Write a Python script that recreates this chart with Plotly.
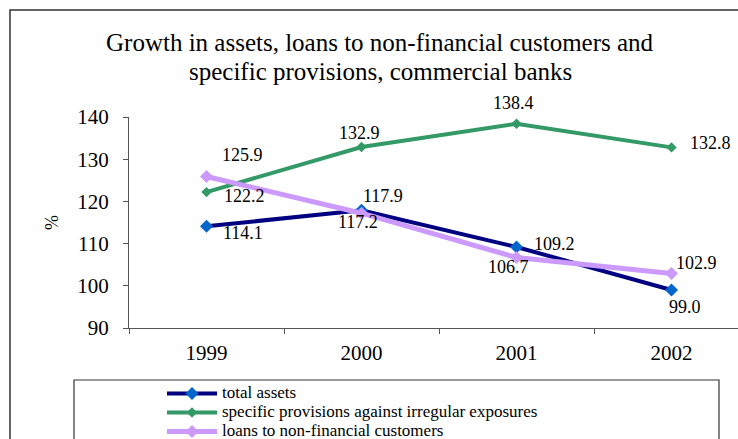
import plotly.graph_objects as go

# Data: growth indices (%), commercial banks
years = ["1999", "2000", "2001", "2002"]
total_assets = [114.1, 117.9, 109.2, 99.0]
specific_provisions = [122.2, 132.9, 138.4, 132.8]
loans_nonfin = [125.9, 117.2, 106.7, 102.9]

series_names = [
    "total assets",
    "specific provisions against irregular exposures",
    "loans to non-financial customers",
]

# Figure geometry (pixels)
W, H = 738, 439
PLOT_L, PLOT_T, PLOT_B = 129, 117, 328
PLOT_R = W
PLOT_W = PLOT_R - PLOT_L
PLOT_H = PLOT_B - PLOT_T

def px_x(px):
    return (px - PLOT_L) / PLOT_W

def px_y(py):
    return (PLOT_B - py) / PLOT_H

SERIF = "Liberation Serif, serif"

styles = [
    dict(line=dict(color="#000080", width=4),
         marker=dict(symbol="diamond", size=10, color="#0066CC")),
    dict(line=dict(color="#339966", width=4),
         marker=dict(symbol="diamond", size=8, color="#339966")),
    dict(line=dict(color="#CC99FF", width=5),
         marker=dict(symbol="diamond", size=10, color="#CC99FF")),
]

# label offsets (dx, dy) in pixels for each series / year
label_offsets = [
    [(36, -7), (21, 14), (38, 3), (13, -17)],
    [(38, -4), (-2, 14), (-3, 21), (39, 4)],
    [(36, 22), (-4, -9), (-8, -9), (25, 11)],
]

fig = go.Figure()
all_series = [total_assets, specific_provisions, loans_nonfin]
for name, vals, st in zip(series_names, all_series, styles):
    fig.add_trace(go.Scatter(
        x=years, y=vals,
        name=f'<span style="font-size:17px">{name}</span>',
        mode="lines+markers", line=st["line"], marker=st["marker"],
        cliponaxis=False,
    ))

annotations = []
for vals, offs in zip(all_series, label_offsets):
    for i, (v, (dx, dy)) in enumerate(zip(vals, offs)):
        annotations.append(dict(
            x=i, y=v, xref="x", yref="y", text=f"{v:.1f}", showarrow=False,
            xanchor="center", yanchor="middle",
            xshift=dx, yshift=dy, font=dict(family=SERIF, size=18, color="#000"),
        ))

# Title (two lines)
title_lines = [
    "Growth in assets, loans to non-financial customers and",
    "specific provisions, commercial banks",
]
for text, py in zip(title_lines, [42, 71]):
    annotations.append(dict(
        x=px_x(380), y=px_y(py), xref="paper", yref="paper", showarrow=False,
        xanchor="center", yanchor="middle", text=text,
        font=dict(family=SERIF, size=25, color="#000"),
    ))
# Y axis title
annotations.append(dict(
    x=px_x(52), y=px_y(222), xref="paper", yref="paper", showarrow=False,
    xanchor="center", yanchor="middle",
    text="%", textangle=-90, font=dict(family=SERIF, size=18, color="#000"),
))

shapes = [
    # outer chart frame
    dict(type="rect", xref="paper", yref="paper",
         x0=px_x(10), y0=px_y(H + 20), x1=px_x(W + 20), y1=px_y(10),
         line=dict(color="#333", width=1.5), layer="below"),
    # legend frame
    dict(type="rect", xref="paper", yref="paper",
         x0=px_x(74), y0=px_y(H + 20), x1=px_x(719), y1=px_y(380),
         line=dict(color="#333", width=1.2), layer="below"),
]

fig.update_layout(
    width=W, height=H,
    margin=dict(l=PLOT_L, r=W - PLOT_R, t=PLOT_T, b=H - PLOT_B,
                autoexpand=False),
    paper_bgcolor="white", plot_bgcolor="white",
    font=dict(family=SERIF, color="#000"),
    showlegend=True,
    legend=dict(
        x=px_x(162), y=px_y(379), xanchor="left", yanchor="top",
        font=dict(family=SERIF, size=12, color="#000"),
        bgcolor="rgba(0,0,0,0)", borderwidth=0, itemwidth=50,
        tracegroupgap=0,
    ),
    xaxis=dict(
        type="category", range=[-0.5, -0.5 + PLOT_W / 155],
        showgrid=False, zeroline=False,
        showline=True, linecolor="#555", linewidth=1,
        ticks="outside", ticklen=5, tickcolor="#555", tickson="boundaries",
        tickfont=dict(family=SERIF, size=21, color="#000"),
        ticklabelstandoff=6,
    ),
    yaxis=dict(
        range=[90, 140], dtick=10, showgrid=False, zeroline=False,
        showline=True, linecolor="#555", linewidth=1,
        ticks="outside", ticklen=5, tickcolor="#555",
        tickfont=dict(family=SERIF, size=21, color="#000"),
        ticklabelstandoff=10,
    ),
    annotations=annotations,
    shapes=shapes,
)

fig.write_html("out.html")
